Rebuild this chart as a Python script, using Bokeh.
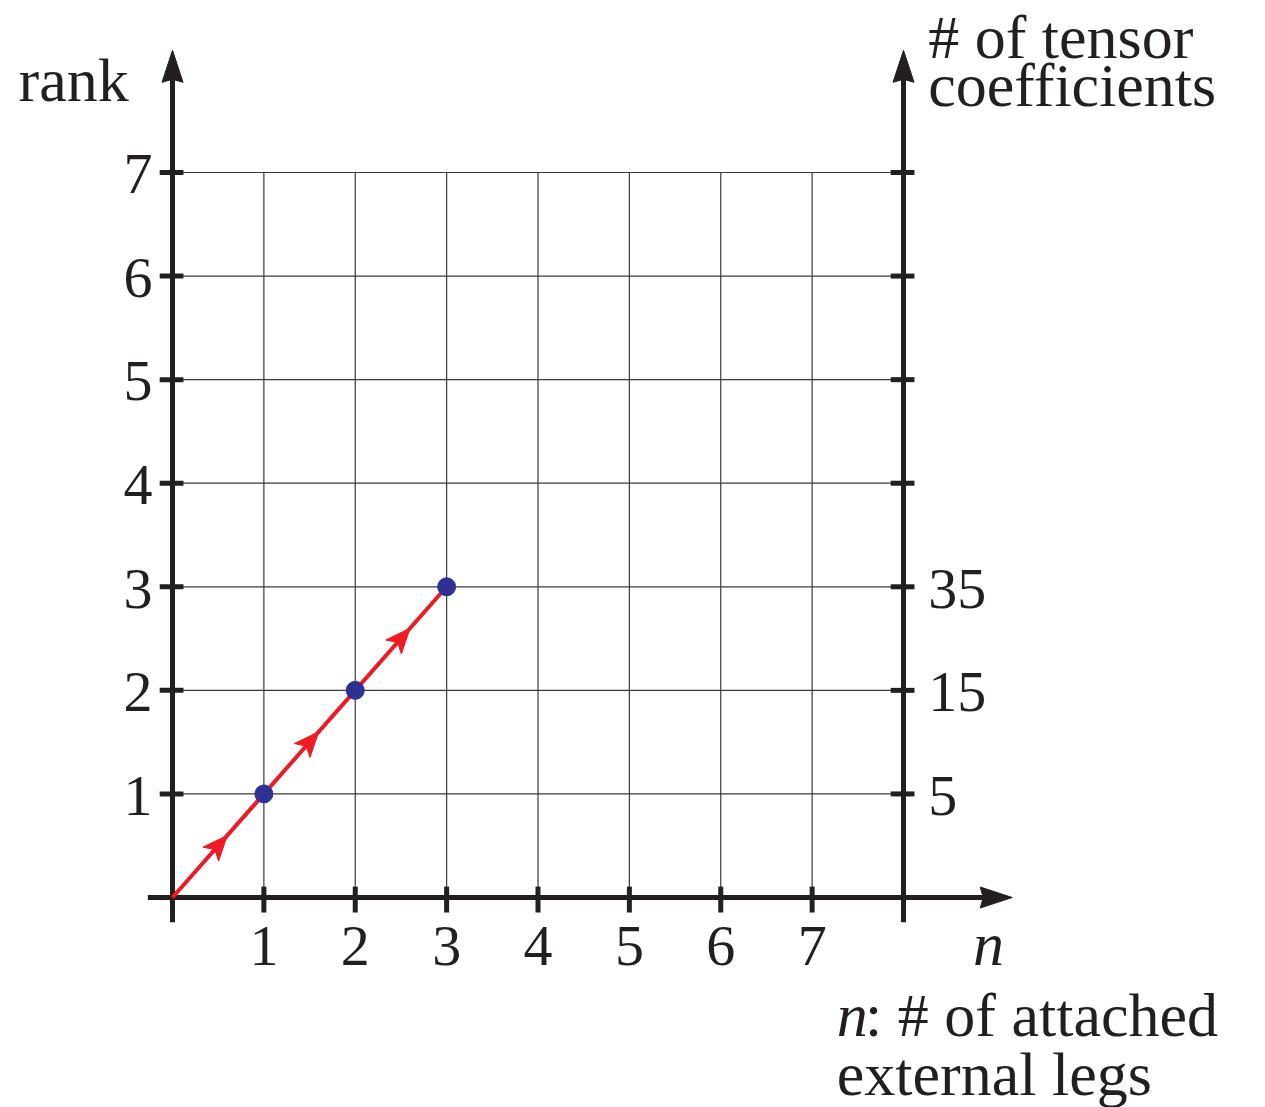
import numpy as np
from bokeh.plotting import figure
from bokeh.core.properties import value
from bokeh.embed import file_html
from bokeh.resources import INLINE

# --- data -------------------------------------------------------------
n_points = [1, 2, 3]            # number of attached external legs
rank_points = [1, 2, 3]         # tensor rank
coeff_labels = ["5", "15", "35"]  # number of tensor coefficients at each rank
x_ticks = [1, 2, 3, 4, 5, 6, 7]
y_ticks = [1, 2, 3, 4, 5, 6, 7]
x_max = 8
y_max = 7

# --- canvas geometry (pixels per data unit) ----------------------------
W, H = 1265, 1107
SX, SY = 91.375, 103.57
X0_PX, Y0_PX = 172, 897

p = figure(width=W, height=H,
           x_range=(-X0_PX / SX, (W - X0_PX) / SX),
           y_range=(-(H - Y0_PX) / SY, Y0_PX / SY),
           x_axis_type=None, y_axis_type=None,
           min_border=0, toolbar_location=None, output_backend="svg")
p.grid.visible = False
p.outline_line_color = None
p.background_fill_color = "white"

INK = "#231f20"
RED = "#ed1c24"
BLUE = "#2e3192"
FONT = value("Liberation Serif")
FS_NUM = "58px"
FS_WORD = "62px"
# baseline correction for the svg text renderer, in data units
BL = 20 / SY


def head(tip_x, tip_y, dir_x, dir_y, length, width, notch):
    """Arrowhead polygon (stealth style) in data units; sizes in pixels."""
    dxp, dyp = dir_x * SX, dir_y * SY
    nrm = np.hypot(dxp, dyp)
    ux, uy = dxp / nrm, dyp / nrm
    px, py = -uy, ux
    tip = np.array([0.0, 0.0])
    back = np.array([-ux * length, -uy * length])
    left = back + np.array([px, py]) * width / 2
    right = back - np.array([px, py]) * width / 2
    mid = back + np.array([ux, uy]) * notch
    pts = [tip, left, mid, right]
    xs = [tip_x + q[0] / SX for q in pts]
    ys = [tip_y + q[1] / SY for q in pts]
    return xs, ys


# --- grid -------------------------------------------------------------
p.segment(x0=x_ticks, y0=[0] * len(x_ticks), x1=x_ticks, y1=[y_max] * len(x_ticks),
          line_color="#3a3a3a", line_width=1.2)
p.segment(x0=[0] * len(y_ticks), y0=y_ticks, x1=[x_max] * len(y_ticks), y1=y_ticks,
          line_color="#3a3a3a", line_width=1.2)

# --- axes -------------------------------------------------------------
AX_LW = 5
x_tip = 9.19
y_tip = 8.18
head_len, head_w, head_notch = 32, 21, 3
p.segment(x0=[-0.27, 0, x_max], y0=[0, -0.24, -0.24],
          x1=[x_tip - (head_len - 4) / SX, 0, x_max],
          y1=[0, y_tip - (head_len - 4) / SY, y_tip - (head_len - 4) / SY],
          line_color=INK, line_width=AX_LW)
hx, hy = [], []
for tx, ty, dx, dy in [(x_tip, 0, 1, 0), (0, y_tip, 0, 1), (x_max, y_tip, 0, 1)]:
    a, b = head(tx, ty, dx, dy, head_len, head_w, head_notch)
    hx.append(a)
    hy.append(b)
p.patches(hx, hy, fill_color=INK, line_color=INK, line_width=1)

# tick marks
p.segment(x0=x_ticks, y0=[0.105] * 7, x1=x_ticks, y1=[-0.145] * 7,
          line_color=INK, line_width=AX_LW)
p.segment(x0=[-0.14] * 7, y0=y_ticks, x1=[0.12] * 7, y1=y_ticks,
          line_color=INK, line_width=AX_LW)
p.segment(x0=[x_max - 0.14] * 7, y0=y_ticks, x1=[x_max + 0.12] * 7, y1=y_ticks,
          line_color=INK, line_width=AX_LW)

# --- path of increasing rank -----------------------------------------
path_x = [0] + n_points
path_y = [0] + rank_points
p.line(path_x, path_y, line_color=RED, line_width=4)
rx, ry = [], []
for i in range(len(n_points)):
    x_a, y_a = path_x[i], path_y[i]
    x_b, y_b = path_x[i + 1], path_y[i + 1]
    t = 0.6
    a, b = head(x_a + t * (x_b - x_a), y_a + t * (y_b - y_a),
                x_b - x_a, y_b - y_a, 25, 21, 6)
    rx.append(a)
    ry.append(b)
p.patches(rx, ry, fill_color=RED, line_color=RED, line_width=1)
p.scatter(n_points, rank_points, size=18, fill_color=BLUE, line_color=BLUE)

# --- labels -----------------------------------------------------------
num = dict(text_font=FONT, text_font_size=FS_NUM, text_color=INK,
           text_baseline="alphabetic")
word = dict(text_font=FONT, text_font_size=FS_WORD, text_color=INK,
            text_baseline="alphabetic", text_align="left")
p.text(x=x_ticks, y=[-0.66 + BL] * 7, text=[str(v) for v in x_ticks],
       text_align="center", **num)
p.text(x=[-0.22] * 7, y=[v - 0.21 + BL for v in y_ticks], text=[str(v) for v in y_ticks],
       text_align="right", **num)
p.text(x=[x_max + 0.27] * 3, y=[v - 0.21 + BL for v in rank_points], text=coeff_labels,
       text_align="left", **num)

p.text(x=[-1.685], y=[7.70 + BL], text=["rank"], **word)
p.text(x=[x_max + 0.27] * 2, y=[8.12 + BL, 7.65 + BL],
       text=["# of tensor", "coefficients"], **word)
p.text(x=[8.76], y=[-0.64 + BL], text=["n"], text_font_style="italic", **word)

# footnote: italic "n" followed by its description
p.text(x=[7.27], y=[-1.33 + BL], text=["n"], text_font_style="italic", **word)
p.text(x=[7.58, 7.27], y=[-1.33 + BL, -1.90 + BL],
       text=[": # of attached", "external legs"], **word)

open("out.html", "w").write(file_html(p, INLINE))
